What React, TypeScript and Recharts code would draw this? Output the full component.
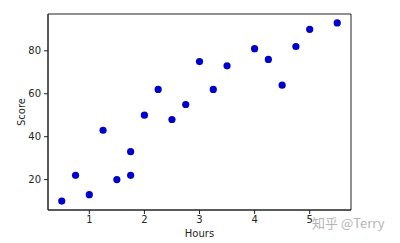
import {
  ScatterChart, Scatter, XAxis, YAxis, ReferenceArea,
} from 'recharts'

const HOURS  = [0.5, 0.75, 1, 1.25, 1.5, 1.75, 1.75, 2, 2.25, 2.5, 2.75, 3, 3.25, 3.5, 4, 4.25, 4.5, 4.75, 5, 5.5]
const SCORES = [10, 22, 13, 43, 20, 22, 33, 50, 62, 48, 55, 75, 62, 73, 81, 76, 64, 82, 90, 93]
const X_TICKS = [1, 2, 3, 4, 5]
const Y_TICKS = [20, 40, 60, 80]

const X_DOMAIN: [number, number] = [0.25, 5.75]
const Y_DOMAIN: [number, number] = [5.85, 97.15]

const DOT_COLOR  = '#0000cc'
const TEXT_COLOR = '#262626'
const FONT = '"DejaVu Sans", sans-serif'

const points = HOURS.map((h, i) => ({ hours: h, score: SCORES[i] }))

export default function App() {
  const tick = { fill: TEXT_COLOR, fontSize: 10, fontFamily: FONT }
  return (
    <div style={{ position: 'absolute', left: 0, top: 0, width: 400, height: 243, background: '#fff' }}>
      <ScatterChart width={400} height={243} margin={{ top: 14, right: 49, left: 0, bottom: 0 }}>
        <XAxis
          type="number" dataKey="hours" domain={X_DOMAIN} ticks={X_TICKS}
          allowDataOverflow height={33} tick={tick}
          axisLine={{ stroke: '#222' }} tickLine={{ stroke: '#222' }} tickSize={4} tickMargin={2}
          label={{ value: 'Hours', position: 'insideBottom', offset: 6, fill: TEXT_COLOR, fontSize: 10, fontFamily: FONT }}
        />
        <YAxis
          type="number" dataKey="score" domain={Y_DOMAIN} ticks={Y_TICKS}
          allowDataOverflow width={48} tick={tick}
          axisLine={{ stroke: '#222' }} tickLine={{ stroke: '#222' }} tickSize={4} tickMargin={3}
          label={{ value: 'Score', angle: -90, position: 'insideLeft', offset: 21, textAnchor: 'middle', fill: TEXT_COLOR, fontSize: 10, fontFamily: FONT }}
        />
        <ReferenceArea
          x1={X_DOMAIN[0]} x2={X_DOMAIN[1]} y1={Y_DOMAIN[0]} y2={Y_DOMAIN[1]}
          fill="none" stroke="#222" strokeWidth={1}
        />
        <Scatter data={points} fill={DOT_COLOR} isAnimationActive={false}
          shape={(p: any) => <circle cx={p.cx} cy={p.cy} r={3.6} fill={DOT_COLOR} />}
        />
      </ScatterChart>
      <div style={{
        position: 'absolute', left: 312, top: 213, fontSize: 13, color: '#b5b5b5',
        fontFamily: '"Noto Sans CJK SC", sans-serif', whiteSpace: 'nowrap',
      }}>
        知乎 @Terry
      </div>
    </div>
  )
}
